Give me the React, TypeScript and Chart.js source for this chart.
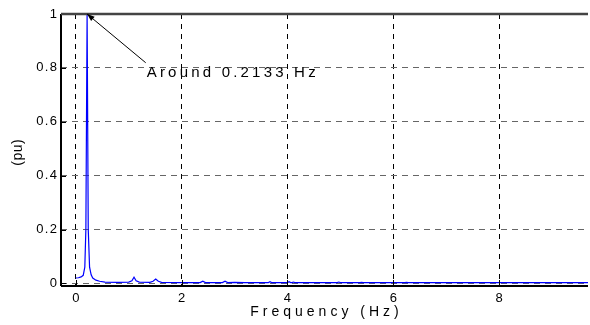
import React, { useEffect, useRef } from "react";
import { Chart, registerables } from "chart.js";

Chart.register(...registerables);

const freqHz = [0, 0.05, 0.1, 0.14, 0.17, 0.19, 0.2133, 0.235, 0.26, 0.29, 0.32, 0.38, 0.45, 0.55, 0.8, 1.0, 1.06, 1.1, 1.14, 1.2, 1.4, 1.46, 1.51, 1.56, 1.62, 2.0, 2.35, 2.4, 2.45, 2.77, 2.82, 2.87, 3.0, 3.2, 3.64, 3.67, 3.7, 4.0, 4.03, 4.06, 4.09, 4.11, 4.14, 4.5, 4.94, 4.97, 5.0, 5.37, 5.4, 5.43, 6.22, 6.25, 6.28, 7.0, 8.0, 9.0, 9.68];
const amplitudePu = [0.02, 0.021, 0.024, 0.03, 0.06, 0.2, 1.0, 0.2, 0.06, 0.032, 0.02, 0.012, 0.008, 0.005, 0.004, 0.005, 0.01, 0.023, 0.01, 0.005, 0.004, 0.008, 0.016, 0.008, 0.004, 0.003, 0.003, 0.008, 0.003, 0.003, 0.008, 0.003, 0.004, 0.003, 0.003, 0.006, 0.003, 0.003, 0.006, 0.003, 0.003, 0.005, 0.003, 0.003, 0.003, 0.005, 0.003, 0.003, 0.004, 0.003, 0.003, 0.004, 0.003, 0.003, 0.003, 0.003, 0.003];

const xTicks = [0, 2, 4, 6, 8];
const yTicks = [0, 0.2, 0.4, 0.6, 0.8, 1];
const xTitle = "Frequency (Hz)";
const yTitle = "(pu)";

const annotationTip = { x: 0.2133, y: 1 };
const annotationLabel = { x: 1.34, y: 0.782, text: "Around 0.2133 Hz" };

const FONT = "'Liberation Sans', Arial, sans-serif";

function spacedText(ctx: any, text: string, x: number, y: number, spacing: number, align: "left" | "center" | "right") {
  ctx.letterSpacing = `${spacing}px`;
  ctx.textAlign = "left";
  const w = ctx.measureText(text).width - spacing;
  let sx = x;
  if (align === "center") sx = x - w / 2;
  else if (align === "right") sx = x - w;
  ctx.fillText(text, sx, y);
}

export default function App() {
  const ref = useRef<HTMLCanvasElement | null>(null);

  useEffect(() => {
    document.body.style.margin = "0";
    const canvas = ref.current!;
    const annot = {
      id: "annot",
      afterDraw(chart: any) {
        const ctx = chart.ctx as any;
        const xs = chart.scales.x;
        const ys = chart.scales.y;
        const a = chart.chartArea;
        ctx.save();
        ctx.setLineDash([]);
        // inward tick marks
        ctx.strokeStyle = "#000";
        ctx.lineWidth = 1;
        ctx.beginPath();
        for (const v of yTicks) {
          const py = Math.round(ys.getPixelForValue(v)) + 0.5;
          ctx.moveTo(a.left, py);
          ctx.lineTo(a.left + 5, py);
        }
        for (const v of xTicks) {
          const px = Math.round(xs.getPixelForValue(v)) + 0.5;
          ctx.moveTo(px, a.bottom);
          ctx.lineTo(px, a.bottom - 5);
        }
        ctx.stroke();
        // frame
        ctx.lineWidth = 2;
        ctx.beginPath();
        ctx.moveTo(a.left, a.top);
        ctx.lineTo(a.left, a.bottom + 1);
        ctx.moveTo(a.left, a.bottom + 1);
        ctx.lineTo(a.right, a.bottom + 1);
        ctx.stroke();
        ctx.strokeStyle = "#444";
        ctx.lineWidth = 2.5;
        ctx.beginPath();
        ctx.moveTo(a.left, a.top);
        ctx.lineTo(a.right, a.top);
        ctx.stroke();
        // tick labels
        ctx.fillStyle = "#000";
        ctx.textBaseline = "middle";
        ctx.font = `13px ${FONT}`;
        for (const v of yTicks) {
          spacedText(ctx, String(v), a.left - 4, ys.getPixelForValue(v), 1.3, "right");
        }
        for (const v of xTicks) {
          spacedText(ctx, String(v), xs.getPixelForValue(v), a.bottom + 13, 1.3, "center");
        }
        // axis titles
        ctx.font = `14px ${FONT}`;
        spacedText(ctx, xTitle, (a.left + a.right) / 2, a.bottom + 27, 4, "center");
        ctx.save();
        ctx.translate(18, (a.top + a.bottom) / 2 + 3);
        ctx.rotate(-Math.PI / 2);
        spacedText(ctx, yTitle, 0, 0, 0.5, "center");
        ctx.restore();
        // arrow
        const tx = xs.getPixelForValue(annotationTip.x);
        const ty = ys.getPixelForValue(annotationTip.y);
        const lx = xs.getPixelForValue(annotationLabel.x);
        const ly = ys.getPixelForValue(annotationLabel.y);
        const sx = lx - 1;
        const sy = ly - 10;
        ctx.strokeStyle = "#000";
        ctx.lineWidth = 1;
        ctx.beginPath();
        ctx.moveTo(sx, sy);
        ctx.lineTo(tx, ty);
        ctx.stroke();
        const ang = Math.atan2(ty - sy, tx - sx);
        const L = 8, W = 0.35;
        ctx.beginPath();
        ctx.moveTo(tx, ty);
        ctx.lineTo(tx - L * Math.cos(ang - W), ty - L * Math.sin(ang - W));
        ctx.lineTo(tx - L * Math.cos(ang + W), ty - L * Math.sin(ang + W));
        ctx.closePath();
        ctx.fill();
        ctx.font = `15px ${FONT}`;
        spacedText(ctx, annotationLabel.text, lx, ly, 3.2, "left");
        ctx.letterSpacing = "0px";
        ctx.restore();
      },
    };

    const chart = new Chart(canvas, {
      type: "line",
      data: {
        datasets: [
          {
            data: freqHz.map((f, i) => ({ x: f, y: amplitudePu[i] })),
            borderColor: "#0000ff",
            borderWidth: 1.2,
            pointRadius: 0,
            tension: 0,
            fill: false,
          },
        ],
      },
      options: {
        responsive: false,
        animation: false,
        events: [],
        layout: { padding: { top: 14, right: 2, left: 0, bottom: 0 } },
        plugins: { legend: { display: false }, tooltip: { enabled: false } },
        scales: {
          x: {
            type: "linear",
            min: -0.28,
            max: 9.68,
            afterBuildTicks: (s: any) => {
              s.ticks = xTicks.map((v) => ({ value: v }));
            },
            afterFit: (s: any) => {
              s.height = 40;
            },
            grid: { color: "#000", lineWidth: 1, drawTicks: false },
            border: { display: false, dash: [5, 5] },
            ticks: { display: false },
          },
          y: {
            type: "linear",
            min: -0.006,
            max: 1,
            afterBuildTicks: (s: any) => {
              s.ticks = yTicks.map((v) => ({ value: v }));
            },
            afterFit: (s: any) => {
              s.width = 61;
            },
            grid: { color: "#666", lineWidth: 1, drawTicks: false },
            border: { display: false, dash: [6, 5] },
            ticks: { display: false },
          },
        },
      },
      plugins: [annot],
    } as any);
    return () => chart.destroy();
  }, []);

  return (
    <div style={{ position: "fixed", left: 0, top: 0, width: 590, height: 325, background: "#fff" }}>
      <canvas ref={ref} width={590} height={325} style={{ display: "block" }} />
    </div>
  );
}
